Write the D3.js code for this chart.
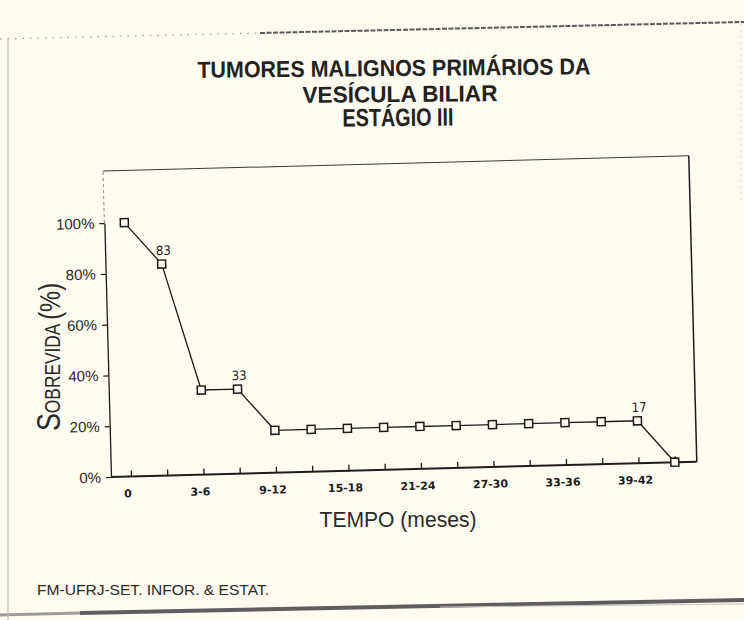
<!DOCTYPE html>
<html>
<head>
<meta charset="utf-8">
<script src="https://cdn.jsdelivr.net/npm/d3@7"></script>
<style>
    body { margin: 0; background: #fefbf1; }
</style>
</head>
<body>
<div class="chart"></div>
<script>
// dados
const timeLabels = ["0", "3-6", "9-12", "15-18", "21-24", "27-30", "33-36", "39-42"]
const survival = [100, 83.3, 33.3, 33.3, 16.7, 16.7, 16.7, 16.7, 16.7, 16.7, 16.7, 16.7, 16.7, 16.7, 16.7, 0]
const pointLabels = ["", "83", "", "33", "", "", "", "", "", "", "", "", "", "", "17", ""]
const yTicks = [0, 20, 40, 60, 80, 100]
const titleLines = ["TUMORES MALIGNOS PRIMÁRIOS DA", "VESÍCULA BILIAR", "ESTÁGIO III"]

let width = 744, height = 620
let ink = "#1c1c1c", paper = "#fefbf1"
let sans = "'Liberation Sans', Arial, sans-serif"

let svg = d3.select(".chart")
    .append("svg")
    .attr("width", width)
    .attr("height", height)
svg.append("rect").attr("width", width).attr("height", height).attr("fill", paper)

// bordas do papel escaneado
svg.append("path")
    .attr("d", "M0,39 L260,33")
    .attr("stroke", "#9a9a9a").attr("stroke-width", 1.2)
    .attr("stroke-dasharray", "1.5,6").attr("fill", "none")
svg.append("path")
    .attr("d", "M260,33 L744,22")
    .attr("stroke", "#5a5a5a").attr("stroke-width", 2)
    .attr("stroke-dasharray", "5,1.5").attr("fill", "none")
svg.append("path")
    .attr("d", "M0,615 L80,613")
    .attr("stroke", "#9c9c9c").attr("stroke-width", 3).attr("fill", "none")
svg.append("path")
    .attr("d", "M80,613 L744,600")
    .attr("stroke", "#5e5e5e").attr("stroke-width", 4).attr("fill", "none")
svg.append("path")
    .attr("d", "M440,607 L744,604")
    .attr("stroke", "#c4c2bb").attr("stroke-width", 1).attr("fill", "none")
svg.append("path")
    .attr("d", "M8,40 V620")
    .attr("stroke", "#bdbbb4").attr("stroke-width", 1).attr("fill", "none")
svg.append("path")
    .attr("d", "M741,24 V200")
    .attr("stroke", "#d2d0c8").attr("stroke-width", 1)
    .attr("stroke-dasharray", "2,4").attr("fill", "none")

// título
let titleX = [394, 400, 398], titleY = [76, 102, 126], titleW = [393, 195, 111], titleSize = [23, 23, 25]
titleLines.forEach((line, i) => {
    svg.append("text")
        .attr("x", titleX[i])
        .attr("y", titleY[i])
        .attr("transform", `rotate(-0.5, ${titleX[i]}, ${titleY[i]})`)
        .attr("text-anchor", "middle")
        .attr("font-family", sans)
        .attr("font-weight", "bold")
        .attr("font-size", titleSize[i])
        .attr("textLength", titleW[i])
        .attr("lengthAdjust", "spacingAndGlyphs")
        .attr("fill", "#222")
        .text(line)
})

// área do gráfico (levemente girada, como no original)
let plotW = 586, plotH = 306
let g = svg.append("g").attr("transform", "translate(111,477) rotate(-1.5)")

let x = d3.scaleLinear().domain([0, survival.length - 1]).range([20, 564])
let y = d3.scaleLinear().domain([0, 100]).range([0, -254])

// moldura
g.append("path")
    .attr("d", `M0,${-plotH} H${plotW}`)
    .attr("stroke", "#3a3a3a").attr("stroke-width", 1).attr("fill", "none")
g.append("path")
    .attr("d", `M0,${y(100)} V${-plotH}`)
    .attr("stroke", "#8a8a8a").attr("stroke-width", 1)
    .attr("stroke-dasharray", "3,3").attr("fill", "none")
g.append("path")
    .attr("d", `M${plotW},0 V${-plotH}`)
    .attr("stroke", ink).attr("stroke-width", 1.5).attr("fill", "none")

// eixo x
let xAxis = g.append("g")
    .call(d3.axisBottom(x)
        .tickValues(d3.range(survival.length))
        .tickSize(-6)
        .tickSizeOuter(0)
        .tickPadding(13)
        .tickFormat(i => i % 2 === 0 ? timeLabels[i / 2] : ""))
xAxis.select(".domain").remove()
xAxis.selectAll(".tick line").attr("stroke", ink).attr("stroke-width", 1.3)
xAxis.selectAll(".tick text")
    .attr("dx", -4)
    .attr("font-family", "'DejaVu Sans', sans-serif")
    .attr("font-weight", "bold")
    .attr("font-size", 11)
    .attr("fill", ink)
g.append("path")
    .attr("d", `M0,0 H${plotW}`)
    .attr("stroke", ink).attr("stroke-width", 2).attr("fill", "none")

// eixo y
let yAxis = g.append("g")
    .call(d3.axisLeft(y)
        .tickValues(yTicks)
        .tickSize(5)
        .tickSizeOuter(0)
        .tickPadding(5)
        .tickFormat(d => d + "%"))
yAxis.select(".domain").attr("stroke", ink).attr("stroke-width", 1.3)
yAxis.selectAll(".tick line").attr("stroke", ink).attr("stroke-width", 1.2)
yAxis.selectAll(".tick text")
    .attr("font-family", sans)
    .attr("font-size", 15)
    .attr("fill", "#2a2a2a")

// linha de sobrevida
g.append("path")
    .datum(survival)
    .attr("d", d3.line().x((d, i) => x(i)).y(d => y(d)))
    .attr("stroke", ink).attr("stroke-width", 1.3).attr("fill", "none")

g.append("g")
    .selectAll("rect")
    .data(survival)
    .enter()
    .append("rect")
    .attr("x", (d, i) => x(i) - 4)
    .attr("y", d => y(d) - 4)
    .attr("width", 8)
    .attr("height", 8)
    .attr("fill", paper)
    .attr("stroke", ink)
    .attr("stroke-width", 1.5)

g.append("g")
    .selectAll("text")
    .data(survival)
    .enter()
    .append("text")
    .attr("x", (d, i) => x(i) + 2)
    .attr("y", d => y(d) - 9)
    .attr("text-anchor", "middle")
    .attr("font-family", "'DejaVu Sans Condensed', " + sans)
    .attr("font-size", 13)
    .attr("fill", ink)
    .text((d, i) => pointLabels[i])

// título do eixo y
let yTitle = svg.append("text")
    .attr("transform", "translate(60,357) rotate(-90)")
    .attr("text-anchor", "middle")
    .attr("font-family", sans)
    .attr("fill", "#2a2a2a")
    .attr("textLength", 148)
    .attr("lengthAdjust", "spacingAndGlyphs")
yTitle.append("tspan").attr("font-size", 34).text("S")
yTitle.append("tspan").attr("font-size", 22).text("OBREVIDA ")
yTitle.append("tspan").attr("font-size", 30).text("(%)")

// título do eixo x
svg.append("text")
    .attr("x", 398)
    .attr("y", 527)
    .attr("text-anchor", "middle")
    .attr("font-family", sans)
    .attr("font-size", 22)
    .attr("textLength", 157)
    .attr("lengthAdjust", "spacingAndGlyphs")
    .attr("fill", "#2a2a2a")
    .text("TEMPO (meses)")

// fonte
svg.append("text")
    .attr("x", 37)
    .attr("y", 595)
    .attr("font-family", sans)
    .attr("font-size", 14)
    .attr("textLength", 232)
    .attr("lengthAdjust", "spacingAndGlyphs")
    .attr("fill", "#2a2a2a")
    .text("FM-UFRJ-SET. INFOR. & ESTAT.")
</script>
</body>
</html>
